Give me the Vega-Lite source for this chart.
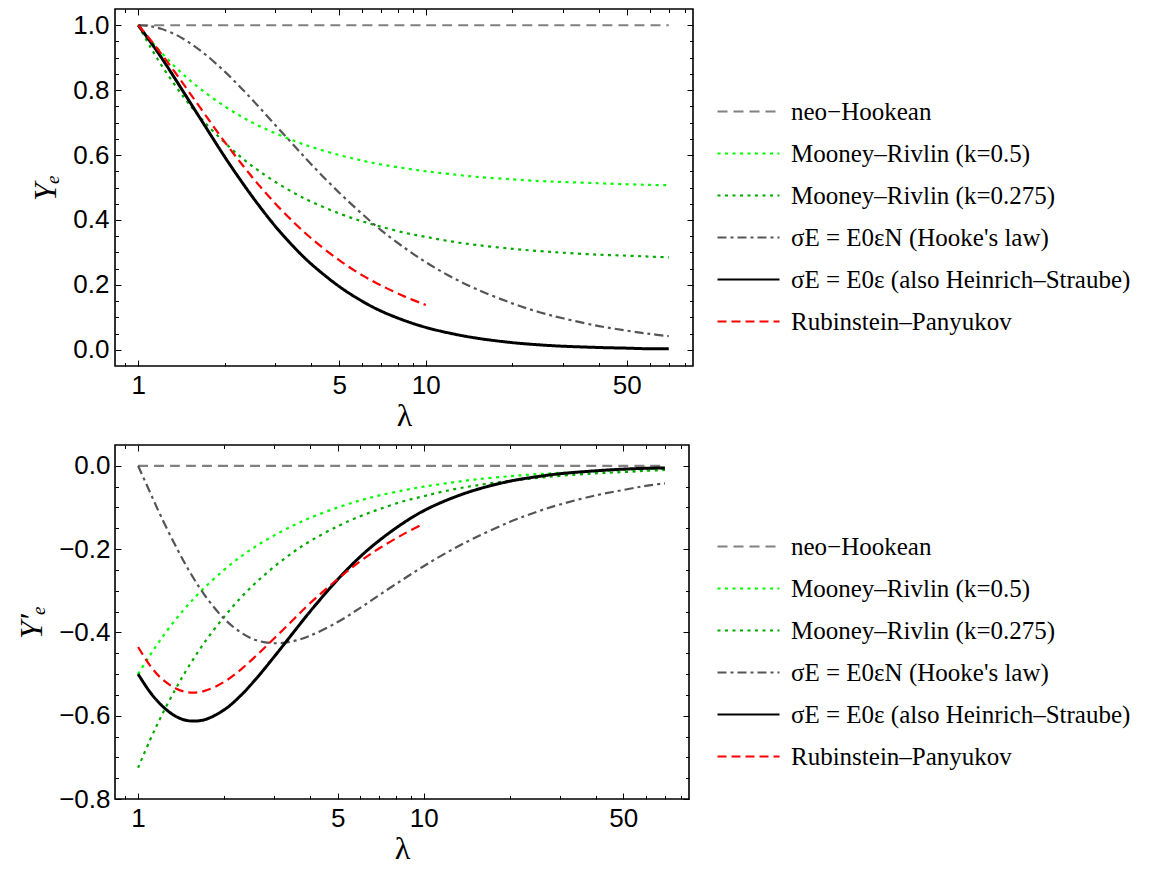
{
  "$schema": "https://vega.github.io/schema/vega-lite/v6.json",
  "background": "white",
  "padding": {"left": 14, "top": 7, "right": 5, "bottom": 0},
  "spacing": 11,
  "datasets": {
    "curves": [
      {"m": "neo−Hookean", "x": 1, "y": 1, "d": 0},
      {"m": "neo−Hookean", "x": 10, "y": 1, "d": 0},
      {"m": "neo−Hookean", "x": 70, "y": 1, "d": 0},

      {"m": "Mooney–Rivlin (k=0.5)", "x": 1, "y": 1, "d": -0.5},
      {"m": "Mooney–Rivlin (k=0.5)", "x": 1.1, "y": 0.955, "d": -0.455},
      {"m": "Mooney–Rivlin (k=0.5)", "x": 1.2, "y": 0.917, "d": -0.417},
      {"m": "Mooney–Rivlin (k=0.5)", "x": 1.35, "y": 0.870, "d": -0.370},
      {"m": "Mooney–Rivlin (k=0.5)", "x": 1.5, "y": 0.833, "d": -0.333},
      {"m": "Mooney–Rivlin (k=0.5)", "x": 1.7, "y": 0.794, "d": -0.294},
      {"m": "Mooney–Rivlin (k=0.5)", "x": 2, "y": 0.75, "d": -0.25},
      {"m": "Mooney–Rivlin (k=0.5)", "x": 2.3, "y": 0.717, "d": -0.217},
      {"m": "Mooney–Rivlin (k=0.5)", "x": 2.6, "y": 0.692, "d": -0.192},
      {"m": "Mooney–Rivlin (k=0.5)", "x": 3, "y": 0.667, "d": -0.167},
      {"m": "Mooney–Rivlin (k=0.5)", "x": 3.5, "y": 0.643, "d": -0.143},
      {"m": "Mooney–Rivlin (k=0.5)", "x": 4, "y": 0.625, "d": -0.125},
      {"m": "Mooney–Rivlin (k=0.5)", "x": 5, "y": 0.6, "d": -0.1},
      {"m": "Mooney–Rivlin (k=0.5)", "x": 6, "y": 0.583, "d": -0.083},
      {"m": "Mooney–Rivlin (k=0.5)", "x": 7, "y": 0.571, "d": -0.071},
      {"m": "Mooney–Rivlin (k=0.5)", "x": 8.5, "y": 0.559, "d": -0.059},
      {"m": "Mooney–Rivlin (k=0.5)", "x": 10, "y": 0.55, "d": -0.05},
      {"m": "Mooney–Rivlin (k=0.5)", "x": 12, "y": 0.542, "d": -0.042},
      {"m": "Mooney–Rivlin (k=0.5)", "x": 15, "y": 0.533, "d": -0.033},
      {"m": "Mooney–Rivlin (k=0.5)", "x": 20, "y": 0.525, "d": -0.025},
      {"m": "Mooney–Rivlin (k=0.5)", "x": 25, "y": 0.52, "d": -0.02},
      {"m": "Mooney–Rivlin (k=0.5)", "x": 30, "y": 0.517, "d": -0.017},
      {"m": "Mooney–Rivlin (k=0.5)", "x": 40, "y": 0.513, "d": -0.013},
      {"m": "Mooney–Rivlin (k=0.5)", "x": 50, "y": 0.51, "d": -0.01},
      {"m": "Mooney–Rivlin (k=0.5)", "x": 60, "y": 0.508, "d": -0.008},
      {"m": "Mooney–Rivlin (k=0.5)", "x": 70, "y": 0.507, "d": -0.007},

      {"m": "Mooney–Rivlin (k=0.275)", "x": 1, "y": 1, "d": -0.725},
      {"m": "Mooney–Rivlin (k=0.275)", "x": 1.1, "y": 0.934, "d": -0.659},
      {"m": "Mooney–Rivlin (k=0.275)", "x": 1.2, "y": 0.879, "d": -0.604},
      {"m": "Mooney–Rivlin (k=0.275)", "x": 1.35, "y": 0.812, "d": -0.537},
      {"m": "Mooney–Rivlin (k=0.275)", "x": 1.5, "y": 0.758, "d": -0.483},
      {"m": "Mooney–Rivlin (k=0.275)", "x": 1.7, "y": 0.701, "d": -0.426},
      {"m": "Mooney–Rivlin (k=0.275)", "x": 2, "y": 0.638, "d": -0.363},
      {"m": "Mooney–Rivlin (k=0.275)", "x": 2.3, "y": 0.590, "d": -0.315},
      {"m": "Mooney–Rivlin (k=0.275)", "x": 2.6, "y": 0.554, "d": -0.279},
      {"m": "Mooney–Rivlin (k=0.275)", "x": 3, "y": 0.517, "d": -0.242},
      {"m": "Mooney–Rivlin (k=0.275)", "x": 3.5, "y": 0.482, "d": -0.207},
      {"m": "Mooney–Rivlin (k=0.275)", "x": 4, "y": 0.456, "d": -0.181},
      {"m": "Mooney–Rivlin (k=0.275)", "x": 5, "y": 0.42, "d": -0.145},
      {"m": "Mooney–Rivlin (k=0.275)", "x": 6, "y": 0.396, "d": -0.121},
      {"m": "Mooney–Rivlin (k=0.275)", "x": 7, "y": 0.379, "d": -0.104},
      {"m": "Mooney–Rivlin (k=0.275)", "x": 8.5, "y": 0.360, "d": -0.085},
      {"m": "Mooney–Rivlin (k=0.275)", "x": 10, "y": 0.348, "d": -0.073},
      {"m": "Mooney–Rivlin (k=0.275)", "x": 12, "y": 0.335, "d": -0.060},
      {"m": "Mooney–Rivlin (k=0.275)", "x": 15, "y": 0.323, "d": -0.048},
      {"m": "Mooney–Rivlin (k=0.275)", "x": 20, "y": 0.311, "d": -0.036},
      {"m": "Mooney–Rivlin (k=0.275)", "x": 25, "y": 0.304, "d": -0.029},
      {"m": "Mooney–Rivlin (k=0.275)", "x": 30, "y": 0.299, "d": -0.024},
      {"m": "Mooney–Rivlin (k=0.275)", "x": 40, "y": 0.293, "d": -0.018},
      {"m": "Mooney–Rivlin (k=0.275)", "x": 50, "y": 0.290, "d": -0.015},
      {"m": "Mooney–Rivlin (k=0.275)", "x": 60, "y": 0.287, "d": -0.012},
      {"m": "Mooney–Rivlin (k=0.275)", "x": 70, "y": 0.285, "d": -0.010},

      {"m": "σE = E0εN (Hooke's law)", "x": 1, "y": 1, "d": 0},
      {"m": "σE = E0εN (Hooke's law)", "x": 1.1, "y": 0.997, "d": -0.063},
      {"m": "σE = E0εN (Hooke's law)", "x": 1.2, "y": 0.989, "d": -0.120},
      {"m": "σE = E0εN (Hooke's law)", "x": 1.35, "y": 0.971, "d": -0.191},
      {"m": "σE = E0εN (Hooke's law)", "x": 1.5, "y": 0.947, "d": -0.249},
      {"m": "σE = E0εN (Hooke's law)", "x": 1.7, "y": 0.912, "d": -0.308},
      {"m": "σE = E0εN (Hooke's law)", "x": 2, "y": 0.857, "d": -0.367},
      {"m": "σE = E0εN (Hooke's law)", "x": 2.3, "y": 0.803, "d": -0.401},
      {"m": "σE = E0εN (Hooke's law)", "x": 2.6, "y": 0.753, "d": -0.419},
      {"m": "σE = E0εN (Hooke's law)", "x": 3, "y": 0.692, "d": -0.426},
      {"m": "σE = E0εN (Hooke's law)", "x": 3.5, "y": 0.627, "d": -0.421},
      {"m": "σE = E0εN (Hooke's law)", "x": 4, "y": 0.571, "d": -0.408},
      {"m": "σE = E0εN (Hooke's law)", "x": 5, "y": 0.484, "d": -0.375},
      {"m": "σE = E0εN (Hooke's law)", "x": 6, "y": 0.419, "d": -0.341},
      {"m": "σE = E0εN (Hooke's law)", "x": 7, "y": 0.368, "d": -0.310},
      {"m": "σE = E0εN (Hooke's law)", "x": 8.5, "y": 0.312, "d": -0.272},
      {"m": "σE = E0εN (Hooke's law)", "x": 10, "y": 0.270, "d": -0.241},
      {"m": "σE = E0εN (Hooke's law)", "x": 12, "y": 0.229, "d": -0.209},
      {"m": "σE = E0εN (Hooke's law)", "x": 15, "y": 0.187, "d": -0.174},
      {"m": "σE = E0εN (Hooke's law)", "x": 20, "y": 0.143, "d": -0.135},
      {"m": "σE = E0εN (Hooke's law)", "x": 25, "y": 0.115, "d": -0.110},
      {"m": "σE = E0εN (Hooke's law)", "x": 30, "y": 0.097, "d": -0.093},
      {"m": "σE = E0εN (Hooke's law)", "x": 40, "y": 0.073, "d": -0.071},
      {"m": "σE = E0εN (Hooke's law)", "x": 50, "y": 0.059, "d": -0.058},
      {"m": "σE = E0εN (Hooke's law)", "x": 60, "y": 0.049, "d": -0.048},
      {"m": "σE = E0εN (Hooke's law)", "x": 70, "y": 0.042, "d": -0.042},

      {"m": "σE = E0ε (also Heinrich–Straube)", "x": 1, "y": 1, "d": -0.5},
      {"m": "σE = E0ε (also Heinrich–Straube)", "x": 1.1, "y": 0.950, "d": -0.543},
      {"m": "σE = E0ε (also Heinrich–Straube)", "x": 1.2, "y": 0.902, "d": -0.573},
      {"m": "σE = E0ε (also Heinrich–Straube)", "x": 1.35, "y": 0.832, "d": -0.601},
      {"m": "σE = E0ε (also Heinrich–Straube)", "x": 1.5, "y": 0.768, "d": -0.612},
      {"m": "σE = E0ε (also Heinrich–Straube)", "x": 1.7, "y": 0.692, "d": -0.610},
      {"m": "σE = E0ε (also Heinrich–Straube)", "x": 2, "y": 0.594, "d": -0.586},
      {"m": "σE = E0ε (also Heinrich–Straube)", "x": 2.3, "y": 0.515, "d": -0.550},
      {"m": "σE = E0ε (also Heinrich–Straube)", "x": 2.6, "y": 0.450, "d": -0.510},
      {"m": "σE = E0ε (also Heinrich–Straube)", "x": 3, "y": 0.380, "d": -0.458},
      {"m": "σE = E0ε (also Heinrich–Straube)", "x": 3.5, "y": 0.314, "d": -0.400},
      {"m": "σE = E0ε (also Heinrich–Straube)", "x": 4, "y": 0.264, "d": -0.350},
      {"m": "σE = E0ε (also Heinrich–Straube)", "x": 5, "y": 0.195, "d": -0.273},
      {"m": "σE = E0ε (also Heinrich–Straube)", "x": 6, "y": 0.150, "d": -0.218},
      {"m": "σE = E0ε (also Heinrich–Straube)", "x": 7, "y": 0.119, "d": -0.179},
      {"m": "σE = E0ε (also Heinrich–Straube)", "x": 8.5, "y": 0.089, "d": -0.137},
      {"m": "σE = E0ε (also Heinrich–Straube)", "x": 10, "y": 0.069, "d": -0.108},
      {"m": "σE = E0ε (also Heinrich–Straube)", "x": 12, "y": 0.052, "d": -0.083},
      {"m": "σE = E0ε (also Heinrich–Straube)", "x": 15, "y": 0.036, "d": -0.059},
      {"m": "σE = E0ε (also Heinrich–Straube)", "x": 20, "y": 0.022, "d": -0.037},
      {"m": "σE = E0ε (also Heinrich–Straube)", "x": 25, "y": 0.015, "d": -0.026},
      {"m": "σE = E0ε (also Heinrich–Straube)", "x": 30, "y": 0.011, "d": -0.019},
      {"m": "σE = E0ε (also Heinrich–Straube)", "x": 40, "y": 0.007, "d": -0.012},
      {"m": "σE = E0ε (also Heinrich–Straube)", "x": 50, "y": 0.005, "d": -0.008},
      {"m": "σE = E0ε (also Heinrich–Straube)", "x": 60, "y": 0.003, "d": -0.006},
      {"m": "σE = E0ε (also Heinrich–Straube)", "x": 70, "y": 0.003, "d": -0.005},

      {"m": "Rubinstein–Panyukov", "x": 1, "y": 1, "d": -0.435},
      {"m": "Rubinstein–Panyukov", "x": 1.1, "y": 0.956, "d": -0.479},
      {"m": "Rubinstein–Panyukov", "x": 1.2, "y": 0.913, "d": -0.509},
      {"m": "Rubinstein–Panyukov", "x": 1.35, "y": 0.852, "d": -0.534},
      {"m": "Rubinstein–Panyukov", "x": 1.5, "y": 0.795, "d": -0.544},
      {"m": "Rubinstein–Panyukov", "x": 1.7, "y": 0.727, "d": -0.541},
      {"m": "Rubinstein–Panyukov", "x": 2, "y": 0.640, "d": -0.519},
      {"m": "Rubinstein–Panyukov", "x": 2.3, "y": 0.570, "d": -0.488},
      {"m": "Rubinstein–Panyukov", "x": 2.6, "y": 0.512, "d": -0.455},
      {"m": "Rubinstein–Panyukov", "x": 3, "y": 0.450, "d": -0.414},
      {"m": "Rubinstein–Panyukov", "x": 3.5, "y": 0.390, "d": -0.369},
      {"m": "Rubinstein–Panyukov", "x": 4, "y": 0.343, "d": -0.330},
      {"m": "Rubinstein–Panyukov", "x": 5, "y": 0.276, "d": -0.272},
      {"m": "Rubinstein–Panyukov", "x": 6, "y": 0.230, "d": -0.229},
      {"m": "Rubinstein–Panyukov", "x": 7, "y": 0.198, "d": -0.198},
      {"m": "Rubinstein–Panyukov", "x": 8.5, "y": 0.163, "d": -0.164},
      {"m": "Rubinstein–Panyukov", "x": 10, "y": 0.138, "d": -0.139}
    ]
  },
  "resolve": {
    "scale": {"color": "independent", "strokeDash": "independent"},
    "legend": {"color": "independent", "strokeDash": "independent"}
  },
  "vconcat": [
    {
      "width": 578,
      "height": 357,
      "data": {"name": "curves"},
      "resolve": {"axis": {"x": "independent", "y": "independent"}},
      "layer": [
        {
          "mark": {"type": "line", "interpolate": "catmull-rom", "clip": true},
          "encoding": {
            "x": {"field": "x", "type": "quantitative",
                  "scale": {"type": "log", "domain": [0.83, 85], "nice": false},
                  "axis": {"orient": "bottom", "values": [1, 5, 10, 50], "format": "d", "ticks": false, "labelPadding": 6,
                           "title": "λ", "titleFontStyle": "normal", "titlePadding": 2}},
            "y": {"field": "y", "type": "quantitative",
                  "scale": {"domain": [-0.05, 1.05], "nice": false, "zero": false},
                  "axis": {"orient": "left", "values": [0, 0.2, 0.4, 0.6, 0.8, 1], "format": ".1f", "ticks": false, "labelPadding": 6,
                           "title": "Yₑ", "titleFontStyle": "italic", "titlePadding": 10}},
            "color": {"field": "m", "type": "nominal",
                      "scale": {"domain": ["neo−Hookean", "Mooney–Rivlin (k=0.5)", "Mooney–Rivlin (k=0.275)", "σE = E0εN (Hooke's law)", "σE = E0ε (also Heinrich–Straube)", "Rubinstein–Panyukov"],
                                "range": ["#808080", "#00ff00", "#00aa00", "#555555", "#000000", "#ff0000"]},
                      "legend": {"title": null, "orient": "none", "legendX": 623, "legendY": 81}},
            "strokeDash": {"field": "m", "type": "nominal",
                           "scale": {"domain": ["neo−Hookean", "Mooney–Rivlin (k=0.5)", "Mooney–Rivlin (k=0.275)", "σE = E0εN (Hooke's law)", "σE = E0ε (also Heinrich–Straube)", "Rubinstein–Panyukov"],
                                     "range": [[10, 6], [3, 4.5], [3, 4.5], [9, 4, 3, 4], [1, 0], [9, 5]]},
                           "legend": {"title": null, "orient": "none", "legendX": 623, "legendY": 81}},
            "strokeWidth": {"condition": {"test": "indexof(datum.m, 'Heinrich') >= 0", "value": 3}, "value": 2.2}
          }
        },
        {
          "mark": {"type": "line", "opacity": 0},
          "encoding": {
            "x": {"field": "x", "type": "quantitative", "scale": {"type": "log", "domain": [0.83, 85], "nice": false},
                  "axis": {"orient": "bottom", "values": [1, 5, 10, 50], "labels": false, "offset": -6, "tickSize": 6, "title": null}},
            "y": {"field": "y", "type": "quantitative", "scale": {"domain": [-0.05, 1.05], "nice": false, "zero": false},
                  "axis": {"orient": "left", "values": [0, 0.2, 0.4, 0.6, 0.8, 1], "labels": false, "offset": -6, "tickSize": 6, "title": null}}
          }
        },
        {
          "mark": {"type": "line", "opacity": 0},
          "encoding": {
            "x": {"field": "x", "type": "quantitative", "scale": {"type": "log", "domain": [0.83, 85], "nice": false},
                  "axis": {"orient": "top", "values": [1, 5, 10, 50], "labels": false, "offset": -6, "tickSize": 6, "title": null}},
            "y": {"field": "y", "type": "quantitative", "scale": {"domain": [-0.05, 1.05], "nice": false, "zero": false},
                  "axis": {"orient": "right", "values": [0, 0.2, 0.4, 0.6, 0.8, 1], "labels": false, "offset": -6, "tickSize": 6, "title": null}}
          }
        },
        {
          "mark": {"type": "line", "opacity": 0},
          "encoding": {
            "x": {"field": "x", "type": "quantitative", "scale": {"type": "log", "domain": [0.83, 85], "nice": false},
                  "axis": {"orient": "bottom", "values": [0.9, 2, 3, 4, 6, 7, 8, 9, 20, 30, 40, 60, 70, 80], "labels": false, "offset": -3.5, "tickSize": 3.5, "title": null}},
            "y": {"field": "y", "type": "quantitative", "scale": {"domain": [-0.05, 1.05], "nice": false, "zero": false},
                  "axis": {"orient": "left", "values": [0.05, 0.1, 0.15, 0.25, 0.3, 0.35, 0.45, 0.5, 0.55, 0.65, 0.7, 0.75, 0.85, 0.9, 0.95], "labels": false, "offset": -3.5, "tickSize": 3.5, "title": null}}
          }
        },
        {
          "mark": {"type": "line", "opacity": 0},
          "encoding": {
            "x": {"field": "x", "type": "quantitative", "scale": {"type": "log", "domain": [0.83, 85], "nice": false},
                  "axis": {"orient": "top", "values": [0.9, 2, 3, 4, 6, 7, 8, 9, 20, 30, 40, 60, 70, 80], "labels": false, "offset": -3.5, "tickSize": 3.5, "title": null}},
            "y": {"field": "y", "type": "quantitative", "scale": {"domain": [-0.05, 1.05], "nice": false, "zero": false},
                  "axis": {"orient": "right", "values": [0.05, 0.1, 0.15, 0.25, 0.3, 0.35, 0.45, 0.5, 0.55, 0.65, 0.7, 0.75, 0.85, 0.9, 0.95], "labels": false, "offset": -3.5, "tickSize": 3.5, "title": null}}
          }
        }
      ]
    },
    {
      "width": 574,
      "height": 354,
      "data": {"name": "curves"},
      "resolve": {"axis": {"x": "independent", "y": "independent"}},
      "layer": [
        {
          "mark": {"type": "line", "interpolate": "catmull-rom", "clip": true},
          "encoding": {
            "x": {"field": "x", "type": "quantitative",
                  "scale": {"type": "log", "domain": [0.83, 85], "nice": false},
                  "axis": {"orient": "bottom", "values": [1, 5, 10, 50], "format": "d", "ticks": false, "labelPadding": 6,
                           "title": "λ", "titleFontStyle": "normal", "titlePadding": 2}},
            "y": {"field": "d", "type": "quantitative",
                  "scale": {"domain": [-0.8, 0.05], "nice": false, "zero": false},
                  "axis": {"orient": "left", "values": [-0.8, -0.6, -0.4, -0.2, 0], "format": ".1f", "ticks": false, "labelPadding": 5,
                           "title": "Y′ₑ", "titleFontStyle": "italic", "titlePadding": 10}},
            "color": {"field": "m", "type": "nominal",
                      "scale": {"domain": ["neo−Hookean", "Mooney–Rivlin (k=0.5)", "Mooney–Rivlin (k=0.275)", "σE = E0εN (Hooke's law)", "σE = E0ε (also Heinrich–Straube)", "Rubinstein–Panyukov"],
                                "range": ["#808080", "#00ff00", "#00aa00", "#555555", "#000000", "#ff0000"]},
                      "legend": {"title": null, "orient": "none", "legendX": 623, "legendY": 80}},
            "strokeDash": {"field": "m", "type": "nominal",
                           "scale": {"domain": ["neo−Hookean", "Mooney–Rivlin (k=0.5)", "Mooney–Rivlin (k=0.275)", "σE = E0εN (Hooke's law)", "σE = E0ε (also Heinrich–Straube)", "Rubinstein–Panyukov"],
                                     "range": [[10, 6], [3, 4.5], [3, 4.5], [9, 4, 3, 4], [1, 0], [9, 5]]},
                           "legend": {"title": null, "orient": "none", "legendX": 623, "legendY": 80}},
            "strokeWidth": {"condition": {"test": "indexof(datum.m, 'Heinrich') >= 0", "value": 3}, "value": 2.2}
          }
        },
        {
          "mark": {"type": "line", "opacity": 0},
          "encoding": {
            "x": {"field": "x", "type": "quantitative", "scale": {"type": "log", "domain": [0.83, 85], "nice": false},
                  "axis": {"orient": "bottom", "values": [1, 5, 10, 50], "labels": false, "offset": -6, "tickSize": 6, "title": null}},
            "y": {"field": "d", "type": "quantitative", "scale": {"domain": [-0.8, 0.05], "nice": false, "zero": false},
                  "axis": {"orient": "left", "values": [-0.8, -0.6, -0.4, -0.2, 0], "labels": false, "offset": -6, "tickSize": 6, "title": null}}
          }
        },
        {
          "mark": {"type": "line", "opacity": 0},
          "encoding": {
            "x": {"field": "x", "type": "quantitative", "scale": {"type": "log", "domain": [0.83, 85], "nice": false},
                  "axis": {"orient": "top", "values": [1, 5, 10, 50], "labels": false, "offset": -6, "tickSize": 6, "title": null}},
            "y": {"field": "d", "type": "quantitative", "scale": {"domain": [-0.8, 0.05], "nice": false, "zero": false},
                  "axis": {"orient": "right", "values": [-0.8, -0.6, -0.4, -0.2, 0], "labels": false, "offset": -6, "tickSize": 6, "title": null}}
          }
        },
        {
          "mark": {"type": "line", "opacity": 0},
          "encoding": {
            "x": {"field": "x", "type": "quantitative", "scale": {"type": "log", "domain": [0.83, 85], "nice": false},
                  "axis": {"orient": "bottom", "values": [0.9, 2, 3, 4, 6, 7, 8, 9, 20, 30, 40, 60, 70, 80], "labels": false, "offset": -3.5, "tickSize": 3.5, "title": null}},
            "y": {"field": "d", "type": "quantitative", "scale": {"domain": [-0.8, 0.05], "nice": false, "zero": false},
                  "axis": {"orient": "left", "values": [-0.75, -0.7, -0.65, -0.55, -0.5, -0.45, -0.35, -0.3, -0.25, -0.15, -0.1, -0.05], "labels": false, "offset": -3.5, "tickSize": 3.5, "title": null}}
          }
        },
        {
          "mark": {"type": "line", "opacity": 0},
          "encoding": {
            "x": {"field": "x", "type": "quantitative", "scale": {"type": "log", "domain": [0.83, 85], "nice": false},
                  "axis": {"orient": "top", "values": [0.9, 2, 3, 4, 6, 7, 8, 9, 20, 30, 40, 60, 70, 80], "labels": false, "offset": -3.5, "tickSize": 3.5, "title": null}},
            "y": {"field": "d", "type": "quantitative", "scale": {"domain": [-0.8, 0.05], "nice": false, "zero": false},
                  "axis": {"orient": "right", "values": [-0.75, -0.7, -0.65, -0.55, -0.5, -0.45, -0.35, -0.3, -0.25, -0.15, -0.1, -0.05], "labels": false, "offset": -3.5, "tickSize": 3.5, "title": null}}
          }
        }
      ]
    }
  ],
  "config": {
    "view": {"stroke": "#000000", "strokeWidth": 1.6},
    "axis": {
      "grid": false,
      "domain": false,
      "tickColor": "#000000",
      "labelFont": "Liberation Sans",
      "labelFontSize": 26,
      "labelColor": "#000000",
      "titleFont": "Liberation Serif",
      "titleFontSize": 32,
      "titleFontWeight": "normal",
      "titleColor": "#000000"
    },
    "legend": {
      "labelFont": "Liberation Serif",
      "labelFontSize": 25,
      "labelColor": "#000000",
      "labelLimit": 600,
      "labelOffset": 10,
      "symbolType": "M-2.1,0H1",
      "symbolSize": 1600,
      "symbolStrokeWidth": 2.2,
      "rowPadding": 7
    }
  }
}
